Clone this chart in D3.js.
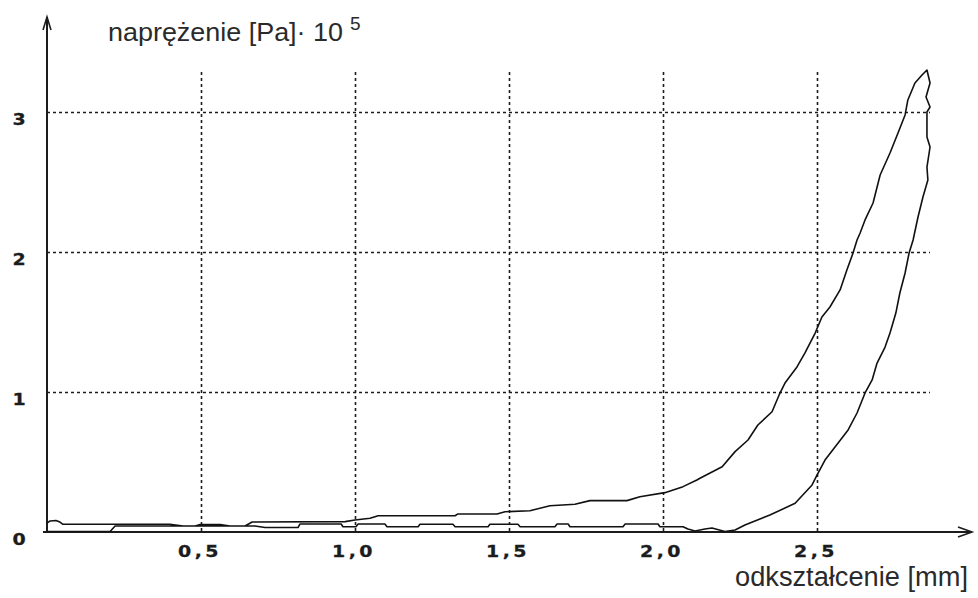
<!DOCTYPE html>
<html>
<head>
<meta charset="utf-8">
<script src="https://cdn.jsdelivr.net/npm/d3@7/dist/d3.min.js"></script>
<style>
  html, body { margin: 0; padding: 0; background: #fff; }
  svg { display: block; }
</style>
</head>
<body>
<svg id="chart" width="978" height="598"></svg>
<script>
// loading branch (upper curve), strain in mm, stress in Pa·10^5
const strainLoad = [0, 0.010, 0.029, 0.042, 0.052, 0.205, 0.399, 0.442, 0.481, 0.497, 0.562, 0.594, 0.643, 0.666,
  0.968, 1.000, 1.049, 1.075, 1.325, 1.334, 1.461, 1.487, 1.568, 1.633, 1.714, 1.763, 1.883, 1.925, 2.006,
  2.065, 2.110, 2.120, 2.192, 2.234, 2.276, 2.308, 2.354, 2.377, 2.396, 2.435, 2.461, 2.494, 2.516, 2.542,
  2.575, 2.597, 2.617, 2.630, 2.640, 2.656, 2.682, 2.705, 2.737, 2.763, 2.786, 2.795, 2.818, 2.841, 2.857];
const stressLoad = [0.064, 0.079, 0.082, 0.071, 0.055, 0.055, 0.055, 0.043, 0.043, 0.054, 0.054, 0.043, 0.043, 0.071,
  0.074, 0.086, 0.098, 0.116, 0.116, 0.129, 0.129, 0.145, 0.152, 0.188, 0.198, 0.224, 0.224, 0.252, 0.281,
  0.324, 0.371, 0.384, 0.466, 0.574, 0.657, 0.764, 0.859, 0.979, 1.064, 1.179, 1.279, 1.421, 1.536, 1.607,
  1.729, 1.871, 1.993, 2.086, 2.136, 2.229, 2.350, 2.550, 2.707, 2.850, 2.979, 3.086, 3.207, 3.264, 3.300];

// unloading branch (from the peak back to zero)
const strainUnload = [2.857, 2.867, 2.854, 2.867, 2.857, 2.857, 2.867, 2.857, 2.860, 2.844, 2.828, 2.812, 2.799,
  2.786, 2.769, 2.756, 2.737, 2.721, 2.695, 2.679, 2.656, 2.630, 2.601, 2.526, 2.500, 2.484, 2.429, 2.347,
  2.266, 2.234, 2.201, 2.159, 2.136, 2.104, 2.081, 2.065, 1.990, 1.984, 1.877, 1.870, 1.698, 1.692, 1.656,
  1.649, 1.536, 1.529, 1.438, 1.432, 1.325, 1.318, 1.211, 1.205, 1.104, 1.097, 1.010, 1.003, 0.961, 0.955,
  0.821, 0.815, 0.708, 0.675, 0.221, 0.205, 0];
const stressUnload = [3.300, 3.207, 3.107, 3.036, 3.000, 2.821, 2.750, 2.607, 2.514, 2.393, 2.250, 2.086, 1.993,
  1.850, 1.707, 1.564, 1.421, 1.321, 1.207, 1.086, 0.993, 0.850, 0.729, 0.514, 0.407, 0.336, 0.205, 0.121,
  0.050, 0.014, 0.004, 0.029, 0.021, 0.007, 0.021, 0.038, 0.038, 0.057, 0.057, 0.038, 0.038, 0.057, 0.057,
  0.038, 0.038, 0.055, 0.055, 0.038, 0.038, 0.055, 0.055, 0.038, 0.038, 0.057, 0.057, 0.038, 0.038, 0.057,
  0.057, 0.032, 0.032, 0.043, 0.043, 0.004, 0.004];

const xTicks = [0.5, 1.0, 1.5, 2.0, 2.5];
const xTickLabels = ["0,5", "1,0", "1,5", "2,0", "2,5"];
const yTicks = [0, 1, 2, 3];
const yGrid = [1, 2, 3];

const titleText = "naprężenie [Pa]· 10";
const titleExp = "5";
const xTitle = "odkształcenie [mm]";

const ink = "#1c1c1c";
const svg = d3.select("#chart");

const x = d3.scaleLinear().domain([0, 3]).range([47, 971]);
const y = d3.scaleLinear().domain([0, 3]).range([532, 112]);

// dotted grid
const grid = svg.append("g")
  .attr("stroke", ink)
  .attr("stroke-width", 1.6)
  .attr("stroke-dasharray", "3,3");

grid.selectAll("line.v")
  .data(xTicks)
  .join("line")
  .attr("class", "v")
  .attr("x1", d => Math.round(x(d)) + 0.5)
  .attr("x2", d => Math.round(x(d)) + 0.5)
  .attr("y1", 72)
  .attr("y2", y(0));

grid.selectAll("line.h")
  .data(yGrid)
  .join("line")
  .attr("class", "h")
  .attr("x1", x(0))
  .attr("x2", 930)
  .attr("y1", d => Math.round(y(d)) + 0.5)
  .attr("y2", d => Math.round(y(d)) + 0.5);

// tick labels, wide bold digits like the original bitmap font
const tickFont = "'DejaVu Sans', Verdana, sans-serif";
const sx = 1.15;

const xAxis = svg.append("g")
  .attr("transform", `translate(0,${y(0)})`)
  .call(d3.axisBottom(x).tickValues(xTicks).tickSize(0).tickFormat((d, i) => xTickLabels[i]));
xAxis.select(".domain").remove();
xAxis.selectAll("text")
  .attr("y", 25.5)
  .attr("x", -1.5 / sx)
  .attr("dy", null)
  .attr("transform", `scale(${sx},1)`)
  .attr("font-family", tickFont)
  .attr("font-weight", "bold")
  .attr("font-size", 16.5)
  .attr("letter-spacing", 3)
  .attr("stroke", ink)
  .attr("stroke-width", 0.3)
  .attr("fill", ink);

const yAxis = svg.append("g")
  .attr("transform", `translate(${x(0)},0)`)
  .call(d3.axisLeft(y).tickValues(yTicks).tickSize(0).tickFormat(d3.format("d")));
yAxis.select(".domain").remove();
yAxis.selectAll("text")
  .attr("x", -28 / sx)
  .attr("y", 12)
  .attr("dy", null)
  .attr("text-anchor", "middle")
  .attr("transform", `scale(${sx},1)`)
  .attr("font-family", tickFont)
  .attr("font-weight", "bold")
  .attr("font-size", 16.5)
  .attr("stroke", ink)
  .attr("stroke-width", 0.3)
  .attr("fill", ink);

// main axes with open arrow heads
const axes = svg.append("g")
  .attr("stroke", ink)
  .attr("stroke-width", 2)
  .attr("fill", "none");

axes.append("line")
  .attr("x1", 43).attr("x2", 972)
  .attr("y1", y(0)).attr("y2", y(0));
axes.append("line")
  .attr("x1", x(0)).attr("x2", x(0))
  .attr("y1", y(0)).attr("y2", 17);
axes.append("path")
  .attr("stroke-width", 1.6)
  .attr("d", `M958,${y(0) - 5}L972,${y(0)}L958,${y(0) + 5}`);
axes.append("path")
  .attr("stroke-width", 1.6)
  .attr("d", `M${x(0) - 4},30L${x(0)},17L${x(0) + 4},30`);

// hysteresis curve
const line = d3.line()
  .x(d => x(d[0]))
  .y(d => y(d[1]));

const loadPts = d3.zip(strainLoad, stressLoad);
const unloadPts = d3.zip(strainUnload, stressUnload);

svg.append("path")
  .datum(loadPts.concat(unloadPts.slice(1)))
  .attr("fill", "none")
  .attr("stroke", "#111")
  .attr("stroke-width", 1.6)
  .attr("stroke-linejoin", "round")
  .attr("d", line);

// titles
const title = svg.append("g")
  .attr("font-family", "'Liberation Sans', Arial, sans-serif")
  .attr("fill", "#2a2a2a");

title.append("text")
  .attr("x", 108)
  .attr("y", 41)
  .attr("font-size", 25)
  .attr("textLength", 235)
  .attr("lengthAdjust", "spacingAndGlyphs")
  .text(titleText);

title.append("text")
  .attr("x", 350)
  .attr("y", 30)
  .attr("font-size", 19)
  .text(titleExp);

title.append("text")
  .attr("x", 735)
  .attr("y", 586)
  .attr("font-size", 27)
  .attr("textLength", 233)
  .attr("lengthAdjust", "spacingAndGlyphs")
  .text(xTitle);
</script>
</body>
</html>
